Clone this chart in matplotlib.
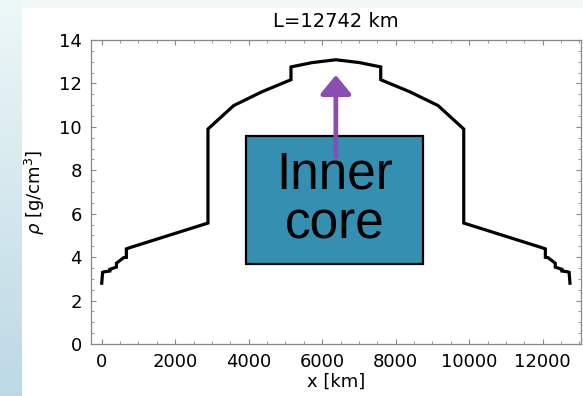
import numpy as np
import matplotlib
matplotlib.use("Agg")
import matplotlib.pyplot as plt
from matplotlib.patches import Rectangle

plt.rcParams['font.family'] = ['DejaVu Sans']

# Data: density along the Earth's diameter
x_km = [0, 24, 80, 220, 220, 400, 400, 600, 670, 670, 771, 2741, 2891, 2891,
        3590, 4365, 5150, 5150, 5730, 6371, 7012, 7592, 7592, 8377, 9152,
        9851, 9851, 10001, 11971, 12072, 12072, 12142, 12342, 12342, 12522,
        12522, 12662, 12718, 12742]
rho = [2.80, 3.30, 3.33, 3.36, 3.44, 3.54, 3.72, 3.98, 3.99, 4.38, 4.44, 5.49, 5.57, 9.90,
       10.98, 11.62, 12.17, 12.76, 12.96, 13.09, 12.96, 12.76, 12.17, 11.62, 10.98,
       9.90, 5.57, 5.49, 4.44, 4.38, 3.99, 3.98, 3.72, 3.54, 3.44,
       3.36, 3.33, 3.30, 2.80]

x_ticks = [0, 2000, 4000, 6000, 8000, 10000, 12000]
y_ticks = [0, 2, 4, 6, 8, 10, 12, 14]
title = "L=12742 km"

box_x = [3937, 8746]
box_y = [3.67, 9.58]
arrow_x = 6371
arrow_y = [8.63, 12.39]

W, H = 583, 396
fig = plt.figure(figsize=(W / 100, H / 100), dpi=100)
fig.patch.set_facecolor('white')

# background decoration
bg = fig.add_axes([0, 0, 1, 1], zorder=-10)
bg.set_xlim(0, W)
bg.set_ylim(H, 0)
bg.axis('off')
grad = np.linspace(0, 1, 200)[:, None]
top_c = np.array([0.93, 0.97, 0.97])
bot_c = np.array([0.74, 0.85, 0.90])
img = top_c[None, None, :] * (1 - grad[:, :, None]) + bot_c[None, None, :] * grad[:, :, None]
bg.imshow(img, extent=[0, 22, H, 0], aspect='auto', interpolation='bilinear')
bg.add_patch(Rectangle((22, 0), W - 22, 8, facecolor='#f1f8f8', edgecolor='none'))

ax = fig.add_axes([90.7 / W, 1 - 344 / H, (581 - 90.7) / W, (344 - 40) / H])
ax.plot(x_km, rho, color='black', lw=2.3, solid_joinstyle='miter', zorder=3)

ax.add_patch(Rectangle((box_x[0], box_y[0]), box_x[1] - box_x[0], box_y[1] - box_y[0],
                       facecolor='#348fb0', edgecolor='black', lw=1.6, zorder=4))
ax.text((box_x[0] + box_x[1]) / 2, (box_y[0] + box_y[1]) / 2, "Inner\ncore",
        ha='center', va='center', fontsize=37, linespacing=1.02, color='black', zorder=5,
        family=['Liberation Sans', 'DejaVu Sans'])
ax.annotate('', xy=(arrow_x, arrow_y[1]), xytext=(arrow_x, arrow_y[0]),
            arrowprops=dict(arrowstyle='-|>,head_length=1.15,head_width=0.94',
                            color='#8a4db3', lw=3.4, shrinkA=0, shrinkB=0,
                            mutation_scale=10), zorder=6)

ax.set_xlim(-300, 13042)
ax.set_ylim(0, 14)
ax.set_xticks(x_ticks)
ax.set_yticks(y_ticks)
ax.set_xticks(np.arange(0, 13001, 500), minor=True)
ax.set_yticks(np.arange(0, 14.01, 0.5), minor=True)
ax.tick_params(which='both', direction='in', top=True, right=True, color='#888888',
               labelsize=13, pad=6.5)
ax.tick_params(which='major', length=3.5, width=0.8)
ax.tick_params(which='minor', length=2, width=0.6)
for s in ax.spines.values():
    s.set_color('#888888')
    s.set_linewidth(0.9)

ax.set_title(title, fontsize=14, pad=9.5)
ax.set_xlabel("x [km]", fontsize=13)
ax.set_ylabel(r"$\rho$ [g/cm$^3$]", fontsize=13)
ax.xaxis.set_label_coords(0.5, -0.095)
ax.yaxis.set_label_coords(-0.09, 0.5)

fig.savefig("out.png", dpi=100)
